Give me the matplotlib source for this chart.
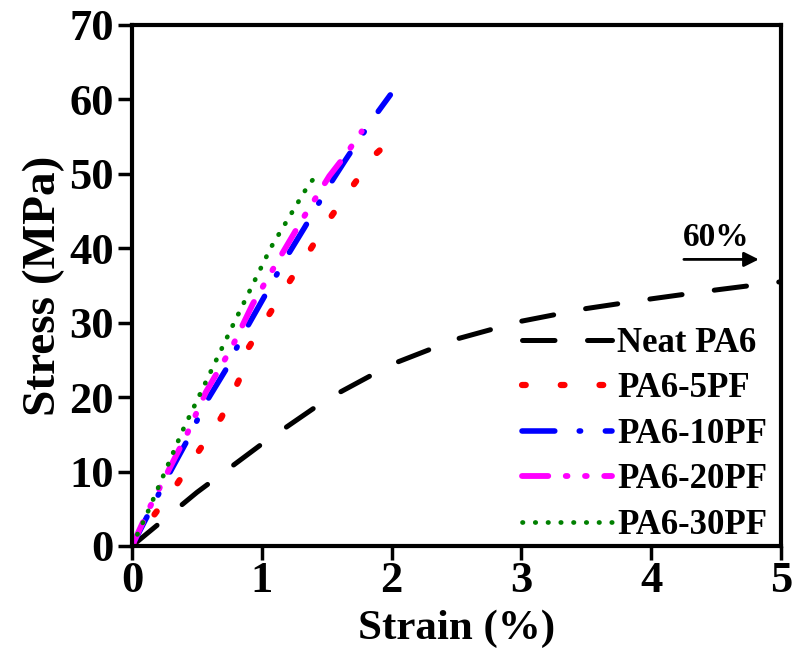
import numpy as np
import matplotlib.pyplot as plt

plt.rcParams['font.family'] = ['Liberation Serif', 'DejaVu Serif']
plt.rcParams['font.weight'] = 'bold'

# strain (%) and stress (MPa)
neat_x = [0, 0.5, 1.0, 1.5, 2.0, 2.5, 3.0, 3.5, 4.0, 4.5, 5.0]
neat_y = [0, 7.2, 13.7, 19.7, 24.4, 27.8, 30.2, 31.9, 33.2, 34.4, 35.5]

pf5_x = [0, 0.18, 0.35, 0.52, 0.69, 0.83, 0.9, 1.06, 1.22, 1.38, 1.54, 1.71, 1.88, 1.93]
pf5_y = [0, 4.4, 8.4, 12.9, 17.3, 22.5, 26.7, 31.2, 35.7, 40.0, 44.4, 48.6, 52.7, 53.5]

pf10_x = [0, 0.28, 0.42, 0.57, 0.72, 0.88, 1.01, 1.19, 1.33, 1.51, 1.65, 1.86, 1.99]
pf10_y = [0, 9.5, 14.0, 19.3, 23.6, 29.2, 33.2, 38.8, 42.8, 48.2, 52.0, 57.5, 60.6]

pf20_x = [0, 0.14, 0.23, 0.42, 0.57, 0.77, 0.93, 1.12, 1.32, 1.52, 1.64, 1.77]
pf20_y = [0, 5.3, 8.4, 14.9, 20.7, 26.7, 32.5, 38.2, 44.1, 49.7, 52.4, 55.7]

pf30_x = [0, 0.04, 0.12, 0.39, 0.77, 1.07, 1.37, 1.40]
pf30_y = [0, 1.5, 4.5, 15.5, 29.4, 40.1, 48.8, 49.3]

labels = ['Neat PA6', 'PA6-5PF', 'PA6-10PF', 'PA6-20PF', 'PA6-30PF']

fig = plt.figure(figsize=(7.97, 6.56), dpi=100)
ax = fig.add_axes([0.1656, 0.1677, 0.8144, 0.7943])

ax.plot(neat_x, neat_y, color='black', lw=3.6, dashes=(6.5, 6.5),
        dash_capstyle='round', label=labels[0])
ax.plot(pf5_x, pf5_y, color='red', lw=4.5, dashes=(0.6, 5.6),
        dash_capstyle='round', label=labels[1])
ax.plot(pf10_x, pf10_y, color='blue', lw=4.0, dashes=(5.9, 4.4, 0.25, 4.45),
        dash_capstyle='round', label=labels[2])
ax.plot(pf20_x, pf20_y, color='magenta', lw=4.2,
        dashes=(4.5, 3.0, 0.3, 3.0, 0.3, 3.0), dash_capstyle='round', label=labels[3])
ax.plot(pf30_x, pf30_y, color='green', lw=3.4, dashes=(0.1, 2.6),
        dash_capstyle='round', label=labels[4])

ax.set_xlim(0, 5)
ax.set_ylim(0, 70)
ax.set_xticks(range(0, 6))
ax.set_yticks(range(0, 71, 10))
ax.tick_params(direction='out', length=10, width=2.5, labelsize=32, pad=3)
ax.tick_params(axis='x', pad=1)
for s in ax.spines.values():
    s.set_linewidth(3)

ax.set_xlabel('Strain (%)', fontsize=31, fontweight='bold', labelpad=6)
ax.set_ylabel('Stress (MPa)', fontsize=34, fontweight='bold', labelpad=3)

ax.annotate('', xy=(4.85, 38.5), xytext=(4.23, 38.5),
            arrowprops=dict(arrowstyle='-|>', color='black', lw=2, mutation_scale=22))
ax.text(4.5, 39.4, '60%', fontsize=24, fontweight='bold', ha='center', va='bottom')

ax.legend(loc='lower right', bbox_to_anchor=(0.995, -0.012), frameon=False,
          handlelength=2.6, handletextpad=0.15, labelspacing=0.36,
          borderaxespad=0.1, borderpad=0.2,
          prop={'weight': 'bold', 'size': 25})

fig.savefig('out.png', dpi=100)
